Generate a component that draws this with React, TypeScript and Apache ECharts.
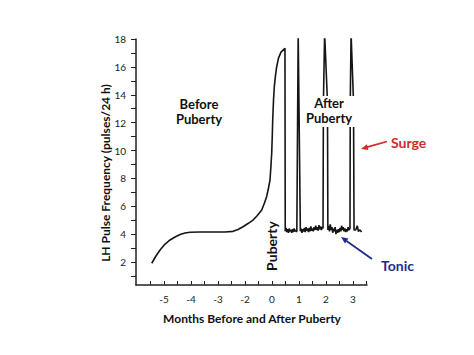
import React, { useEffect, useRef } from "react";
import * as echarts from "echarts";

// x positions are in axis-slot units (slot k carries tick label xTickLabels[k])
const xTickLabels = ["-5", "-4", "-3", "-2", "0", "1", "2", "3"];
const xTickLabelPositions = [0, 1, 2, 3, 4, 5, 6, 7];
const xTickPositions = [-0.5, 0, 0.5, 1, 1.5, 2, 2.5, 3, 3.5, 4, 4.5, 5, 5.5, 6, 6.5, 7, 7.5];
const yTickValues = [1, 2, 3, 4, 5, 6, 7, 8, 9, 10, 11, 12, 13, 14, 15, 16, 17, 18];
const yLabelValues = [2, 4, 6, 8, 10, 12, 14, 16, 18];

// Before puberty: smooth rise
const curveX = [-0.456, -0.3, -0.148, 0.037, 0.222, 0.407, 0.593, 0.778, 0.963, 1.333, 1.815, 2.26, 2.556, 2.74, 2.926, 3.11, 3.296, 3.44, 3.619, 3.72, 3.8, 3.87, 3.926, 3.963, 3.989, 4.011, 4.026, 4.056, 4.085, 4.13, 4.174, 4.24, 4.333, 4.48];
const curveY = [1.91, 2.43, 2.86, 3.29, 3.58, 3.79, 3.97, 4.08, 4.13, 4.15, 4.15, 4.15, 4.2, 4.33, 4.53, 4.76, 5.01, 5.3, 5.73, 6.23, 6.68, 7.31, 7.88, 8.96, 9.82, 11.11, 12.19, 13.62, 14.57, 15.41, 16.01, 16.63, 17.06, 17.33];

// After puberty: tonic baseline with surges
const afterX = [
  4.49, 4.52, 4.55, 4.58, 4.61, 4.64, 4.67, 4.70, 4.73, 4.76, 4.79, 4.82, 4.85, 4.88, 4.91, 4.92,
  4.97, 5.05,
  5.08, 5.11, 5.14, 5.17, 5.2, 5.23, 5.26, 5.29, 5.32, 5.35, 5.38, 5.41, 5.44, 5.47, 5.5, 5.53, 5.56, 5.59, 5.62, 5.65, 5.68, 5.71, 5.74, 5.77, 5.8, 5.83, 5.87, 5.89,
  5.905, 5.95, 6.055, 6.07,
  6.1, 6.13, 6.16, 6.19, 6.22, 6.25, 6.28, 6.31, 6.34, 6.37, 6.40, 6.43, 6.46, 6.49, 6.52, 6.55, 6.58, 6.61, 6.64, 6.67, 6.7, 6.73, 6.76, 6.79, 6.82, 6.85, 6.89,
  6.9, 6.93, 7.02, 7.04,
  7.1, 7.16, 7.2, 7.26, 7.32,
];
const afterY = [
  4.2, 4.45, 4.15, 4.35, 4.1, 4.4, 4.2, 4.3, 4.1, 4.35, 4.15, 4.4, 4.2, 4.3, 4.15, 4.25,
  18.4, 4.2,
  4.4, 4.1, 4.35, 4.2, 4.45, 4.15, 4.5, 4.25, 4.4, 4.15, 4.45, 4.2, 4.55, 4.25, 4.4, 4.2, 4.5, 4.3, 4.6, 4.3, 4.5, 4.25, 4.65, 4.35, 4.55, 4.3, 4.5, 4.4,
  13.5, 18.4, 13.5, 4.3,
  4.6, 4.2, 4.7, 4.3, 4.5, 4.1, 4.4, 4.2, 4.5, 4.0, 4.3, 4.1, 4.35, 4.15, 4.45, 4.2, 4.6, 4.3, 4.5, 4.2, 4.4, 4.15, 4.35, 4.2, 4.5, 4.3, 4.4,
  13.5, 18.4, 13.5, 4.3,
  4.3, 4.6, 4.2, 4.3, 4.15,
];

const lineData = [
  ...curveX.map((x, i) => [x, curveY[i]]),
  [4.49, 4.2],
  ...afterX.map((x, i) => [x, afterY[i]]),
];

const FONT = "Lato, 'Open Sans', sans-serif";

export default function App() {
  const ref = useRef<HTMLDivElement>(null);
  useEffect(() => {
    if (!ref.current) return;
    const chart = echarts.init(ref.current, null, { renderer: "svg" });
    chart.setOption({
      animation: false,
      backgroundColor: "#ffffff",
      grid: { left: 136, right: 107, top: 39, bottom: 70 },
      xAxis: {
        type: "value",
        min: -1.04,
        max: 7.52,
        splitLine: { show: false },
        axisLine: { show: true, onZero: false, lineStyle: { color: "#222", width: 1.5 } },
        axisTick: {
          inside: true,
          length: 4,
          lineStyle: { color: "#222", width: 1 },
          customValues: xTickPositions,
        },
        axisLabel: {
          customValues: xTickLabelPositions,
          formatter: (v: number) => xTickLabels[Math.round(v)] ?? "",
          color: "#222",
          fontFamily: FONT,
          fontSize: 10,
          margin: 9,
        },
      },
      yAxis: {
        type: "value",
        min: 0.35,
        max: 18,
        splitLine: { show: false },
        axisLine: { show: true, onZero: false, lineStyle: { color: "#222", width: 1.5 } },
        axisTick: {
          length: 5,
          lineStyle: { color: "#222", width: 1 },
          customValues: yTickValues,
        },
        axisLabel: {
          customValues: yLabelValues,
          color: "#222",
          fontFamily: FONT,
          fontSize: 10,
          margin: 10,
        },
      },
      series: [
        {
          type: "line",
          data: lineData,
          showSymbol: false,
          clip: true,
          lineStyle: { color: "#151515", width: 1.6 },
          z: 2,
        },
      ],
      graphic: [
        {
          type: "text",
          x: 252,
          y: 318,
          style: { text: "Months Before and After Puberty", font: `bold 12px ${FONT}`, fill: "#111", align: "center", verticalAlign: "middle" },
        },
        {
          type: "text",
          x: 105,
          y: 173,
          rotation: Math.PI / 2,
          style: { text: "LH Pulse Frequency (pulses/24 h)", font: `bold 12px ${FONT}`, fill: "#111", align: "center", verticalAlign: "middle" },
        },
        {
          type: "text",
          x: 199,
          y: 104,
          style: { text: "Before", font: `bold 13px ${FONT}`, fill: "#111", align: "center", verticalAlign: "middle" },
        },
        {
          type: "text",
          x: 199,
          y: 119,
          style: { text: "Puberty", font: `bold 13px ${FONT}`, fill: "#111", align: "center", verticalAlign: "middle" },
        },
        {
          type: "rect",
          z: 9,
          shape: { x: 300, y: 96, width: 58, height: 31 },
          style: { fill: "#ffffff" },
        },
        {
          type: "text",
          x: 329,
          y: 103,
          z: 10,
          style: { text: "After", font: `bold 13px ${FONT}`, fill: "#111", align: "center", verticalAlign: "middle" },
        },
        {
          type: "text",
          x: 329,
          y: 118,
          z: 10,
          style: { text: "Puberty", font: `bold 13px ${FONT}`, fill: "#111", align: "center", verticalAlign: "middle" },
        },
        {
          type: "text",
          x: 271,
          y: 246,
          rotation: Math.PI / 2,
          style: { text: "Puberty", font: `bold 14px ${FONT}`, fill: "#111", align: "center", verticalAlign: "middle" },
        },
        {
          type: "text",
          x: 391,
          y: 142,
          style: { text: "Surge", font: `bold 14px ${FONT}`, fill: "#d22b2b", align: "left", verticalAlign: "middle" },
        },
        {
          type: "text",
          x: 381,
          y: 265,
          style: { text: "Tonic", font: `bold 14px ${FONT}`, fill: "#1f2a8f", align: "left", verticalAlign: "middle" },
        },
        {
          type: "line",
          shape: { x1: 387, y1: 141.5, x2: 367, y2: 147.2 },
          style: { stroke: "#d22b2b", lineWidth: 1.8 },
        },
        {
          type: "polygon",
          shape: { points: [[361, 149], [366.9, 144.2], [368.5, 149.9]] },
          style: { fill: "#d22b2b" },
        },
        {
          type: "line",
          shape: { x1: 372, y1: 259, x2: 346.5, y2: 241 },
          style: { stroke: "#1f2a8f", lineWidth: 1.8 },
        },
        {
          type: "polygon",
          shape: { points: [[341, 237], [348.4, 238.6], [345.0, 243.5]] },
          style: { fill: "#1f2a8f" },
        },
      ],
    });
    return () => chart.dispose();
  }, []);
  return <div ref={ref} style={{ position: "fixed", left: 0, top: 0, width: 474, height: 355 }} />;
}
